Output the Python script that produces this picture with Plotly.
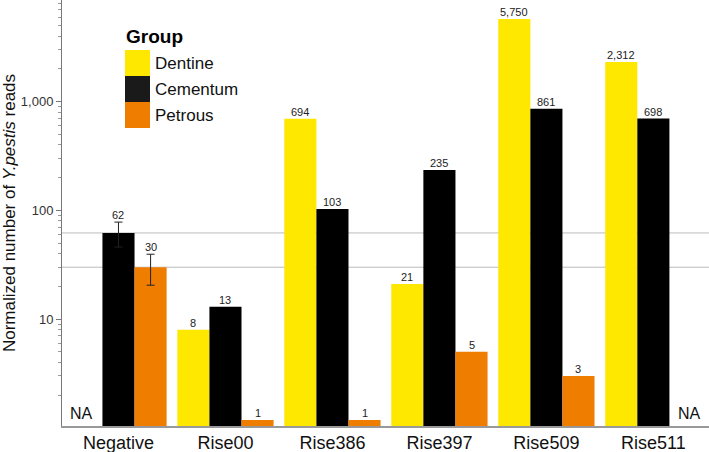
import math
import plotly.graph_objects as go

# ---- data ----
categories = ["Negative", "Rise00", "Rise386", "Rise397", "Rise509", "Rise511"]
dentine = [None, 8, 694, 21, 5750, 2312]
cementum = [62, 13, 103, 235, 861, 698]
petrous = [30, 1.18, 1.18, 5, 3, None]
# error bars exist only for the Negative control group
cementum_err = [16]
petrous_err = [9.5]
group_names = ["Dentine", "Cementum", "Petrous"]
colors = ["#FFE800", "#000000", "#EF7D00"]
legend_colors = ["#FFE800", "#1A1A1A", "#EF7D00"]
y_tickvals = [10, 100, 1000]
y_ticktext = ["10", "100", "1,000"]

FONT = "Liberation Sans, Arial, Helvetica, sans-serif"
x_idx = list(range(len(categories)))
series = [dentine, cementum, petrous]
errors = [None, cementum_err, petrous_err]
bar_w = 0.3

fig = go.Figure()
for k, (name, vals, col, err) in enumerate(zip(group_names, series, colors, errors)):
    kw = {}
    if err is not None:
        kw["error_y"] = dict(type="data", array=err, visible=True,
                             color="#222222", thickness=1, width=4)
    fig.add_trace(go.Bar(x=x_idx, y=vals, name=name, marker_color=col,
                         marker_line_width=0, showlegend=False,
                         hoverinfo="skip", **kw))

annotations = []
# value labels
for k, (vals, err) in enumerate(zip(series, errors)):
    for i, v in enumerate(vals):
        if v is None:
            annotations.append(dict(
                x=i + (k - 1) * bar_w, y=math.log10(1.04), xref="x", yref="y",
                text="NA", showarrow=False, yanchor="bottom",
                xshift=-5 if i == 0 else 4, yshift=2,
                font=dict(family=FONT, size=16, color="#111111")))
            continue
        e = err[i] if (err is not None and i < len(err)) else 0
        annotations.append(dict(
            x=i + (k - 1) * bar_w, y=math.log10(v + e), xref="x", yref="y",
            text=f"{v:,.0f}", showarrow=False, yanchor="bottom", yshift=-1,
            font=dict(family=FONT, size=11, color="#222222")))

# custom legend (paper coordinates; plot area 62..709 x 0..426 px)
PW, PH, L = 647.0, 426.0, 62.0
def px_x(p):
    return (p - L) / PW
def px_y(p):
    return 1 - p / PH

annotations.append(dict(x=px_x(124), y=px_y(36), xref="paper", yref="paper",
                        text="<b>Group</b>", showarrow=False, xanchor="left",
                        yanchor="middle", font=dict(family=FONT, size=19, color="#000000")))
shapes = []
for j, (name, col) in enumerate(zip(group_names, legend_colors)):
    top = 50 + j * 26
    shapes.append(dict(type="rect", xref="paper", yref="paper",
                       x0=px_x(125), x1=px_x(150), y0=px_y(top), y1=px_y(top + 26),
                       fillcolor=col, line_width=0))
    annotations.append(dict(x=px_x(153), y=px_y(top + 13), xref="paper", yref="paper",
                            text=name, showarrow=False, xanchor="left", yanchor="middle",
                            font=dict(family=FONT, size=17, color="#111111")))

# reference lines at negative-control means
for v in (cementum[0], petrous[0]):
    shapes.append(dict(type="line", xref="paper", yref="y", x0=0, x1=1,
                       y0=v, y1=v,
                       line=dict(color="#BBBBBB", width=1), layer="below"))

minor_vals = [m * 10 ** d for d in range(0, 4) for m in range(2, 10)]

fig.update_layout(
    template="none",
    width=709, height=452,
    margin=dict(l=62, r=0, t=0, b=26),
    barmode="group", bargap=0.1, bargroupgap=0,
    plot_bgcolor="white", paper_bgcolor="white",
    font=dict(family=FONT, color="#111111"),
    annotations=annotations, shapes=shapes,
    showlegend=False,
)
fig.update_xaxes(
    range=[-0.528, 5.52], tickvals=x_idx, ticktext=categories,
    showline=True, linecolor="#999999", linewidth=1.5, ticks="",
    showgrid=False, zeroline=False,
    tickfont=dict(family=FONT, size=18, color="#111111"),
)
fig.update_yaxes(
    type="log", range=[math.log10(1.04), math.log10(8600)],
    tickvals=y_tickvals, ticktext=y_ticktext,
    ticks="outside", ticklen=5, tickcolor="#777777", showline=True,
    linecolor="#777777", linewidth=1, showgrid=False, zeroline=False,
    minor=dict(tickmode="array", tickvals=minor_vals, ticks="outside",
               ticklen=3, tickcolor="#999999", showgrid=False),
    tickfont=dict(family=FONT, size=13, color="#333333"),
    title=dict(text="Normalized number of <i>Y.pestis</i> reads",
               font=dict(family=FONT, size=17, color="#111111"), standoff=3),
)

fig.write_html("out.html", config={"displayModeBar": False},
               post_script="document.body.style.margin='0';")
